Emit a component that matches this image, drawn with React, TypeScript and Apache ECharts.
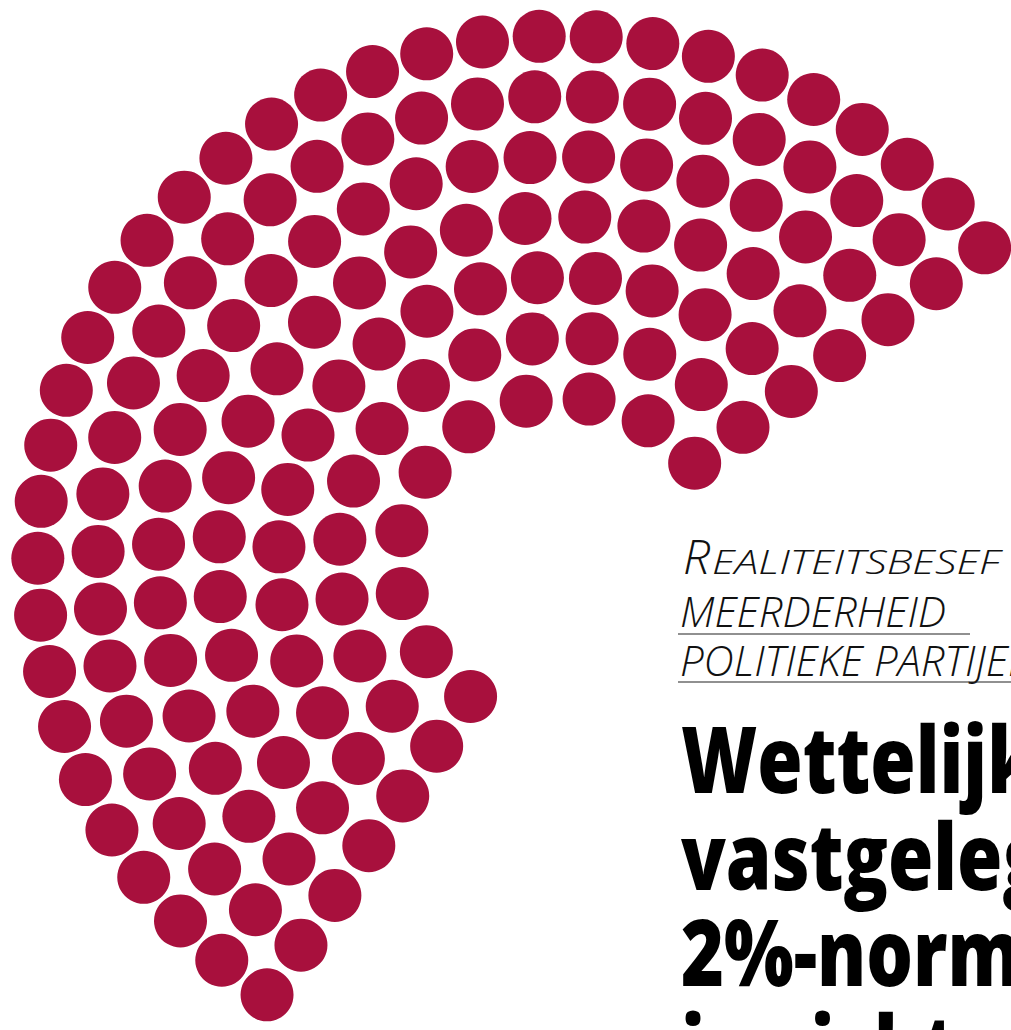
import React, { useEffect, useRef } from 'react';
import * as echarts from 'echarts';

// ---- data ----
const partyName = 'Meerderheid politieke partijen';
const totalSeats = 150;
const seatsPerRow = [10, 14, 18, 21, 25, 29, 33]; // inner -> outer, sums to 150
const kickerFirst = 'R';
const kickerRest = 'EALITEITSBESEF';
const subtitleLines = ['MEERDERHEID', 'POLITIEKE PARTIJEN'];
const titleLines = ['Wettelijk', 'vastgelegde', '2%-norm', 'in zicht'];

// ---- layout ----
const CX = 563;
const CY = 561;
const R0 = 164;
const STEP = 60.2;
const A_START = 36.6;
const A_END = 235.7;
const DOT = 53;
const COLOR = '#A8103D';

function seatData(): number[][] {
  const out: number[][] = [];
  seatsPerRow.forEach((n, row) => {
    const r = R0 + row * STEP;
    for (let k = 0; k < n; k++) {
      const a = A_START + ((A_END - A_START) * k) / (n - 1);
      out.push([r, a]);
    }
  });
  return out.slice(0, totalSeats);
}

const LIGHT = '"Open Sans", "Noto Sans", sans-serif';
const BOLD = '"Open Sans", "Noto Sans", sans-serif';
const K = 0.388; // central-baseline offset factor

export default function App() {
  const ref = useRef<HTMLDivElement>(null);
  useEffect(() => {
    if (!ref.current) return;
    const chart = echarts.init(ref.current, null, { renderer: 'svg' });
    const titleBase = [793, 890, 986, 1082];
    const titleFs = 93;
    const lightStyle = (fs: number) => ({
      x: 0, y: 0, fontFamily: LIGHT, fontWeight: 300, fontStyle: 'italic', fontSize: fs,
      fill: '#111', align: 'left', verticalAlign: 'middle',
    });
    const graphic: any[] = [
      { type: 'text', x: 683, y: 574 - K * 48, style: { ...lightStyle(48), text: kickerFirst } },
      { type: 'text', x: 712, y: 574 - K * 33, scaleX: 1.3, style: { ...lightStyle(33), text: kickerRest } },
      { type: 'text', x: 680, y: 627 - K * 42, style: { ...lightStyle(42), text: subtitleLines[0] } },
      { type: 'line', shape: { x1: 678, y1: 634, x2: 970, y2: 634 }, style: { stroke: '#222', lineWidth: 1.2 } },
      { type: 'text', x: 680, y: 676 - K * 42, style: { ...lightStyle(42), text: subtitleLines[1] } },
      { type: 'line', shape: { x1: 678, y1: 682, x2: 1011, y2: 682 }, style: { stroke: '#222', lineWidth: 1.2 } },
    ];
    titleLines.forEach((t, i) => {
      graphic.push({
        type: 'text', x: 681, y: titleBase[i] - K * titleFs, scaleX: 0.79,
        style: { text: t, x: 0, y: 0, fontFamily: BOLD, fontWeight: 800, fontSize: titleFs, fill: '#000', align: 'left', verticalAlign: 'middle' },
      });
    });

    chart.setOption({
      animation: false,
      backgroundColor: '#ffffff',
      polar: { center: [CX, CY], radius: 600 },
      radiusAxis: { type: 'value', min: 0, max: 600, show: false },
      angleAxis: { type: 'value', min: 0, max: 360, startAngle: 0, clockwise: false, show: false },
      series: [
        {
          name: partyName,
          type: 'scatter',
          coordinateSystem: 'polar',
          symbol: 'circle',
          symbolSize: DOT,
          itemStyle: { color: COLOR, opacity: 1 },
          data: seatData(),
          silent: true,
        },
      ],
      graphic,
    });
    return () => chart.dispose();
  }, []);
  return <div ref={ref} style={{ position: 'absolute', left: 0, top: 0, width: 1011, height: 1030 }} />;
}
